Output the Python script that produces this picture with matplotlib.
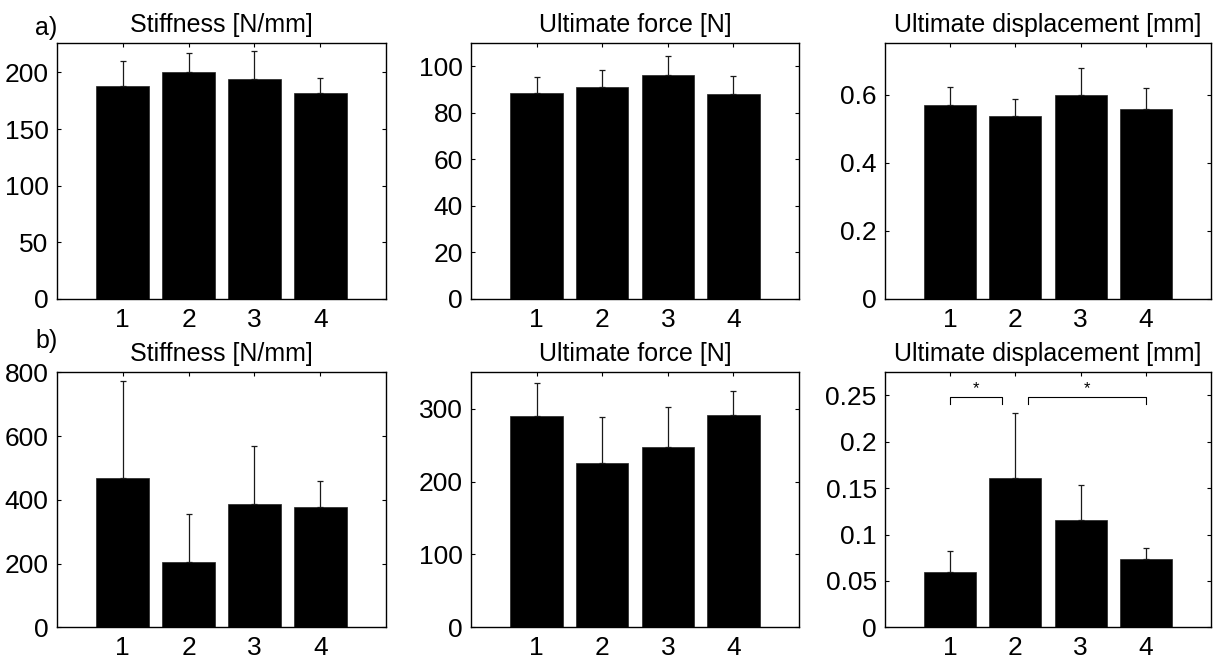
import matplotlib
matplotlib.use("Agg")
import matplotlib.pyplot as plt
import numpy as np

plt.rcParams['font.family'] = ['Liberation Sans', 'DejaVu Sans']

groups = [1, 2, 3, 4]
titles = ["Stiffness [N/mm]", "Ultimate force [N]", "Ultimate displacement [mm]"]
row_labels = ["a)", "b)"]

# Row a)
a_stiff_mean = [188, 200, 194, 182]
a_stiff_err = [22, 17, 25, 13]
a_force_mean = [88.4, 91.3, 96.3, 88.0]
a_force_err = [7.0, 6.9, 7.9, 7.7]
a_disp_mean = [0.569, 0.539, 0.599, 0.559]
a_disp_err = [0.054, 0.049, 0.080, 0.061]

# Row b)
b_stiff_mean = [468, 205, 387, 378]
b_stiff_err = [305, 150, 183, 80]
b_force_mean = [290, 226, 247, 291]
b_force_err = [46, 63, 56, 33]
b_disp_mean = [0.060, 0.1606, 0.116, 0.074]
b_disp_err = [0.022, 0.070, 0.037, 0.011]

ylims = [[226, 110, 0.752], [800, 350, 0.275]]
yticks = [
    [[0, 50, 100, 150, 200], [0, 20, 40, 60, 80, 100], [0, 0.2, 0.4, 0.6]],
    [[0, 200, 400, 600, 800], [0, 100, 200, 300], [0, 0.05, 0.1, 0.15, 0.2, 0.25]],
]
yticklabels = [
    [["0", "50", "100", "150", "200"], ["0", "20", "40", "60", "80", "100"], ["0", "0.2", "0.4", "0.6"]],
    [["0", "200", "400", "600", "800"], ["0", "100", "200", "300"], ["0", "0.05", "0.1", "0.15", "0.2", "0.25"]],
]

# significance brackets (bottom-right panel)
brackets = [(1.0, 1.8), (2.2, 4.0)]
bracket_y = 0.2485
bracket_drop = 0.008
star_y = 0.2575

means = [[a_stiff_mean, a_force_mean, a_disp_mean], [b_stiff_mean, b_force_mean, b_disp_mean]]
errs = [[a_stiff_err, a_force_err, a_disp_err], [b_stiff_err, b_force_err, b_disp_err]]

W, H = 1213, 661
fig = plt.figure(figsize=(W / 100, H / 100), dpi=100)

col_px = [(57, 386), (471, 799), (885, 1211)]
row_px = [(43, 299), (372.3, 627.3)]

TFS = 19
HFS = 18
for r in range(2):
    for c in range(3):
        x0, x1 = col_px[c]
        y0, y1 = row_px[r]
        ax = fig.add_axes([x0 / W, 1 - y1 / H, (x1 - x0) / W, (y1 - y0) / H])
        m = means[r][c]
        e = errs[r][c]
        ax.bar(groups, m, width=0.8, color='black', edgecolor='#222222', linewidth=0.5, zorder=2)
        ax.errorbar(groups, m, yerr=[np.zeros(len(e)), e], fmt='none', ecolor='#1a1a1a',
                    elinewidth=0.9, capsize=2.5, capthick=0.9, zorder=3)
        ax.set_xlim(0, 5)
        ax.set_ylim(0, ylims[r][c])
        ax.set_xticks(groups)
        ax.set_xticklabels([str(g) for g in groups], fontsize=TFS)
        ax.set_yticks(yticks[r][c])
        ax.set_yticklabels(yticklabels[r][c], fontsize=TFS)
        ax.tick_params(direction='in', length=3, width=0.8, top=True, right=True)
        ax.tick_params(axis='x', pad=6.5)
        ax.tick_params(axis='y', pad=6)
        for s in ax.spines.values():
            s.set_linewidth(1.0)
        ax.set_title(titles[c], fontsize=HFS, pad=8)
        if r == 1 and c == 2:
            for (bl, br) in brackets:
                ax.plot([bl, bl, br, br], [bracket_y - bracket_drop, bracket_y, bracket_y, bracket_y - bracket_drop],
                        color='black', linewidth=0.8)
                ax.text((bl + br) / 2, star_y, '*', ha='center', va='center', fontsize=12)

fig.text(46 / W, 1 - 28 / H, row_labels[0], fontsize=HFS, ha='center', va='center')
fig.text(47 / W, 1 - 341 / H, row_labels[1], fontsize=HFS, ha='center', va='center')

fig.savefig("out.png", dpi=100)
